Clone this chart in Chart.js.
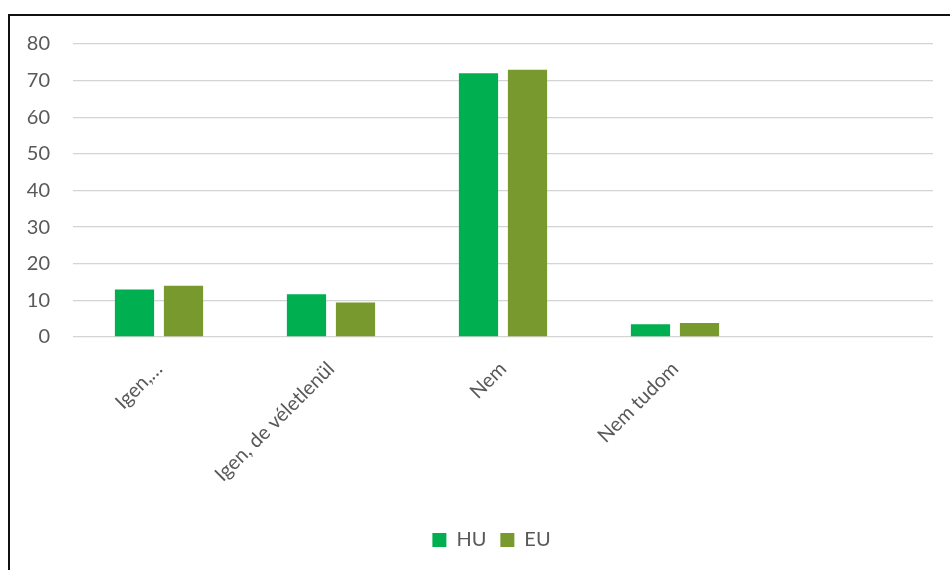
<!DOCTYPE html>
<html>
<head>
<meta charset="utf-8">
<script src="https://cdn.jsdelivr.net/npm/chart.js@4"></script>
<style>
  html, body { margin: 0; padding: 0; background: #fff; }
  #wrap { position: relative; width: 950px; height: 570px; overflow: hidden; }
  #frame { position: absolute; left: 8px; top: 14px; width: 960px; height: 600px;
           border-left: 2px solid #111; border-top: 2px solid #111; box-sizing: border-box; }
  canvas { position: absolute; left: 0; top: 0; }
</style>
</head>
<body>
<div id="wrap">
  <canvas id="answerChart" width="950" height="570"></canvas>
  <div id="frame"></div>
</div>
<script>
// categories (last slot is empty in the original)
const categories = ['Igen,…', 'Igen, de véletlenül', 'Nem', 'Nem tudom', ''];
const huValues = [13, 11.7, 72, 3.5, null];
const euValues = [14, 9.4, 73, 3.8, null];

const labelFont = { family: "Lato, 'Open Sans', sans-serif", size: 20 };
const textColor = '#595959';

// the legend in the original sits a bit right of the canvas centre
const legendShift = {
    id: 'legendShift',
    afterLayout(chart) {
        chart.legend.left += 20;
        chart.legend.right += 20;
    }
};

const ctx = document.getElementById('answerChart').getContext('2d');

new Chart(ctx, {
    type: 'bar',
    data: {
        labels: categories,
        datasets: [{
            label: 'HU',
            data: huValues,
            backgroundColor: '#00B050',
            categoryPercentage: 0.57,
            barPercentage: 0.8
        }, {
            label: 'EU',
            data: euValues,
            backgroundColor: '#77992D',
            categoryPercentage: 0.57,
            barPercentage: 0.8
        }]
    },
    plugins: [legendShift],
    options: {
        responsive: false,
        animation: false,
        layout: { padding: { left: 10, right: 17, top: 44, bottom: 10 } },
        plugins: {
            tooltip: { enabled: false },
            legend: {
                position: 'bottom',
                labels: {
                    color: textColor,
                    font: labelFont,
                    boxWidth: 14,
                    boxHeight: 14,
                    padding: 14
                }
            }
        },
        scales: {
            x: {
                grid: { display: false },
                border: { display: false },
                ticks: {
                    color: textColor,
                    font: labelFont,
                    minRotation: 45,
                    maxRotation: 45,
                    autoSkip: false,
                    padding: 12
                },
                afterFit: function (scale) { scale.height = 179; }
            },
            y: {
                min: 0,
                max: 80,
                border: { display: false },
                grid: { color: '#D4D4D4', lineWidth: 1.3, drawTicks: false },
                ticks: {
                    stepSize: 10,
                    color: textColor,
                    font: labelFont,
                    padding: 23
                },
                afterFit: function (scale) { scale.width = 63; }
            }
        }
    }
});
</script>
</body>
</html>
